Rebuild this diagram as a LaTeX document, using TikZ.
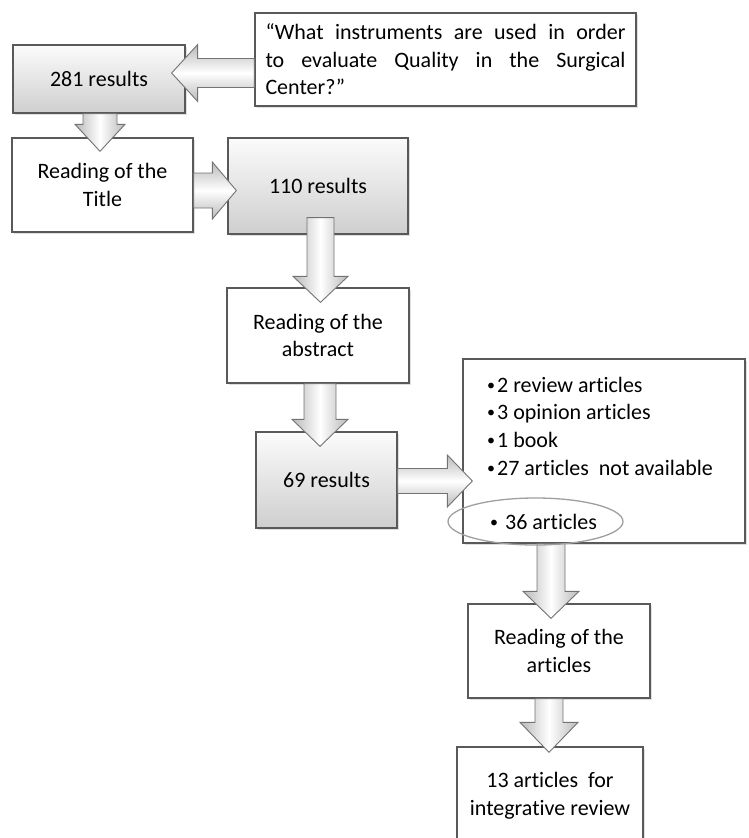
\documentclass[tikz,border=0pt]{standalone}
\usepackage{fontspec}
\setmainfont{Carlito}[Ligatures={NoCommon}]
\usetikzlibrary{calc,shapes.geometric,shadows}

% fat arrow: [shading]{start}{tip}{shaft half}{head half}{head length}
\newcommand{\blockarrow}[6][]{%
	\coordinate (ba-s) at (#2);
	\coordinate (ba-t) at (#3);
	\coordinate (ba-h) at ($(ba-t)!#6!(ba-s)$);
	\draw[fatarrow,#1] ($(ba-s)!#4!90:(ba-t)$) -- ($(ba-h)!#4!90:(ba-t)$) -- ($(ba-h)!#5!90:(ba-t)$) -- (ba-t)
		-- ($(ba-h)!#5!-90:(ba-t)$) -- ($(ba-h)!#4!-90:(ba-t)$) -- ($(ba-s)!#4!-90:(ba-t)$) -- cycle;
}
\newcommand{\smallbul}{\raisebox{2pt}{\fontsize{16}{16}\selectfont•}\hspace{2pt}}

\begin{document}
\begin{tikzpicture}[x=1pt,y=-1pt,line join=miter,
	font=\fontsize{22}{27.5}\selectfont,
	plainbox/.style={draw=black!65,line width=1.3pt,fill=white,align=center,inner sep=0pt,
		drop shadow={shadow xshift=2pt,shadow yshift=-2pt,opacity=0.25}},
	shadebox/.style={plainbox,top color=gray!3,bottom color=gray!38},
	fatarrow/.style={draw=black!55,line width=0.9pt},
	downarrow/.style={left color=gray!55,right color=gray!55,middle color=white},
	sidearrow/.style={top color=gray!55,bottom color=gray!55,middle color=white}]
	
	\useasboundingbox (0,0) rectangle (748,838);
	
	% boxes
	\node[shadebox,minimum width=172,minimum height=68] (r281) at (99,79) {281 results};
	\node[plainbox,minimum width=381,minimum height=93,align=left] (quest) at (445.5,59.5)
		{\makebox[360pt][s]{“What instruments are used in order}\\
		 \makebox[360pt][s]{to evaluate Quality in the Surgical}\\
		 Center?”};
	\node[plainbox,minimum width=181,minimum height=94] (title) at (102.5,185) {Reading of the\\Title};
	\node[shadebox,minimum width=180,minimum height=96] (r110) at (318,186) {110 results};
	\node[plainbox,minimum width=182,minimum height=95] (abstr) at (318,335.5) {Reading of the\\abstract};
	\node[shadebox,minimum width=141,minimum height=96] (r69) at (326.5,480) {69 results};
	\node[plainbox,minimum width=282,minimum height=184] (lst) at (604,451) {};
	\node[plainbox,minimum width=182,minimum height=94] (rart) at (559,651) {Reading of the\\articles};
	\node[plainbox,minimum width=186,minimum height=97] (r13) at (550,795.5) {13 articles\ \ for\\integrative review};
	
	% excluded items
	\foreach \itm [count=\k] in {2 review articles, 3 opinion articles, 1 book, 27 articles\ \ not available}
		\node[anchor=base west,inner sep=0pt] (itm\k) at (487,{392+(\k-1)*27.7}) {\smallbul\itm};
	\node[anchor=base west,inner sep=0pt] (i36) at (490,529.5) {\smallbul\ 36 articles};
	
	% arrows
	\blockarrow[sidearrow]{$(quest.west)+(0,13.5)$}{$(r281.east)+(-14,-6)$}{14.5pt}{28.5pt}{26pt}
	\blockarrow[downarrow]{$(r281.south)+(1,0)$}{$(title.north)+(-2.5,14)$}{17pt}{25pt}{27pt}
	\blockarrow[sidearrow]{$(title.east)+(0,5.5)$}{$(r110.west)+(9,4.5)$}{17.5pt}{28.5pt}{24pt}
	\blockarrow[downarrow]{$(r110.south)+(2.5,-17)$}{$(abstr.north)+(2.5,15)$}{13.5pt}{27.5pt}{26pt}
	\blockarrow[downarrow]{$(abstr.south)+(2,0)$}{$(r69.north)+(-6.5,15)$}{16pt}{28pt}{27pt}
	\blockarrow[sidearrow]{$(r69.east)+(0,1)$}{$(lst.west)+(10,30)$}{12.5pt}{26pt}{25pt}
	\blockarrow[downarrow]{$(lst.south)+(-53,0)$}{$(rart.north)+(-8,15)$}{14pt}{28pt}{27pt}
	\blockarrow[downarrow]{$(rart.south)+(-10,0)$}{$(r13.north)+(-1,6)$}{14pt}{29pt}{30pt}
	
	\node[ellipse,draw=gray!75,line width=1.3pt,minimum width=175,minimum height=47] (ring) at (535.5,521.5) {};
	
\end{tikzpicture}
\end{document}
